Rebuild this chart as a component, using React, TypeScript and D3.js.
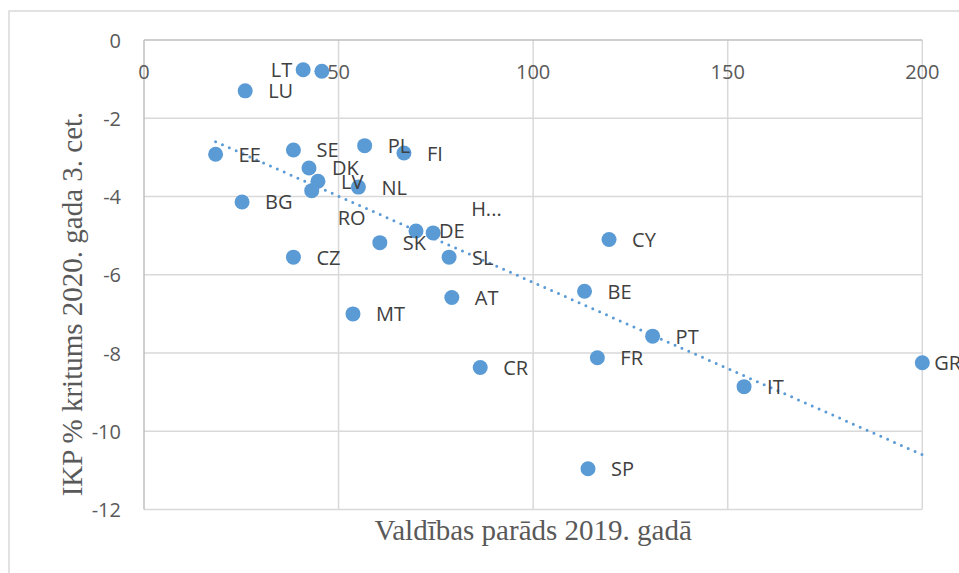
import React from "react";
import * as d3 from "d3";

const labels = ["LT", "", "LU", "EE", "SE", "PL", "FI", "DK", "LV", "RO", "NL", "BG", "SK", "DE", "H...", "SL", "CZ", "CY", "MT", "AT", "BE", "PT", "CR", "FR", "IT", "SP", "GR"];
const debt2019 = [40.9, 45.7, 26.0, 18.4, 38.4, 56.7, 66.8, 42.4, 44.7, 43.1, 55.1, 25.2, 60.6, 69.9, 74.3, 78.4, 38.4, 119.5, 53.7, 79.1, 113.2, 130.7, 86.4, 116.5, 154.2, 114.1, 200];
const gdpDrop = [-0.76, -0.8, -1.3, -2.92, -2.81, -2.7, -2.89, -3.27, -3.61, -3.85, -3.76, -4.14, -5.18, -4.88, -4.93, -5.55, -5.55, -5.1, -7.0, -6.58, -6.42, -7.57, -8.37, -8.12, -8.86, -10.96, -8.25];
const trendX = [18.4, 200];
const trendY = [-2.6, -10.6];
const xTicks = [0, 50, 100, 150, 200];
const yTicks = [0, -2, -4, -6, -8, -10, -12];
const xTitle = "Valdības parāds 2019. gadā";
const yTitle = "IKP % kritums 2020. gada 3. cet.";

const W = 959;
const H = 573;
const PL = 144, PR = 922.3, PT = 40, PB = 509.5;

export default function App() {
  const x = d3.scaleLinear().domain([0, 200]).range([PL, PR]);
  const y = d3.scaleLinear().domain([0, -12]).range([PT, PB]);
  const line = d3.line<number>().x((d, i) => x(trendX[i])).y((d, i) => y(trendY[i]));
  const tickFont = "'Open Sans', 'Noto Sans', sans-serif";
  const special: Record<string, { dx: number; dy: number; anchor: string }> = {
    LT: { dx: -11, dy: 0, anchor: "end" },
    RO: { dx: 26, dy: 27, anchor: "start" },
    "H...": { dx: 38, dy: -24, anchor: "start" },
    GR: { dx: 12, dy: 0, anchor: "start" },
  };
  return (
    <svg width={W} height={H} style={{ position: "absolute", left: 0, top: 0, background: "#fff" }}>
      <rect x={9} y={11} width={1000} height={600} fill="#fff" stroke="#d9d9d9" strokeWidth={1.5} />
      {yTicks.filter((t) => t !== 0).map((t) => (
        <line key={"gy" + t} x1={PL} x2={PR} y1={y(t)} y2={y(t)} stroke="#d9d9d9" strokeWidth={1.5} />
      ))}
      {xTicks.filter((t) => t !== 0).map((t) => (
        <line key={"gx" + t} x1={x(t)} x2={x(t)} y1={PT} y2={PB} stroke="#d9d9d9" strokeWidth={1.5} />
      ))}
      <line x1={PL} x2={PR} y1={y(0)} y2={y(0)} stroke="#bfbfbf" strokeWidth={1.5} />
      <line x1={x(0)} x2={x(0)} y1={PT} y2={PB} stroke="#bfbfbf" strokeWidth={1.5} />
      {xTicks.map((t) => (
        <text key={"xt" + t} x={x(t)} y={71} textAnchor="middle" dominantBaseline="central" fontFamily={tickFont} fontSize={20} fill="#595959">
          {t}
        </text>
      ))}
      {yTicks.map((t) => (
        <text key={"yt" + t} x={121} y={y(t)} textAnchor="end" dominantBaseline="central" fontFamily={tickFont} fontSize={20} fill="#595959">
          {t}
        </text>
      ))}
      {debt2019.map((d, i) => (
        <circle key={"c" + i} cx={x(d)} cy={y(gdpDrop[i])} r={7.5} fill="#5b9bd5" />
      ))}
      <path d={line(trendX) || ""} fill="none" stroke="#5b9bd5" strokeWidth={3} strokeDasharray="0 7.5" strokeLinecap="round" />
      {labels.map((l, i) => {
        if (!l) return null;
        const s = special[l] || { dx: 23, dy: 0, anchor: "start" };
        return (
          <text key={"l" + i} x={x(debt2019[i]) + s.dx} y={y(gdpDrop[i]) + s.dy} textAnchor={s.anchor} dominantBaseline="central" fontFamily={tickFont} fontSize={20} fill="#404040">
            {l}
          </text>
        );
      })}
      <text x={(PL + PR) / 2} y={540} textAnchor="middle" fontFamily="'Liberation Serif', 'Times New Roman', serif" fontSize={29} fill="#595959">
        {xTitle}
      </text>
      <text transform={`translate(82,304) rotate(-90)`} textAnchor="middle" fontFamily="'Liberation Serif', 'Times New Roman', serif" fontSize={29} fill="#595959">
        {yTitle}
      </text>
    </svg>
  );
}
